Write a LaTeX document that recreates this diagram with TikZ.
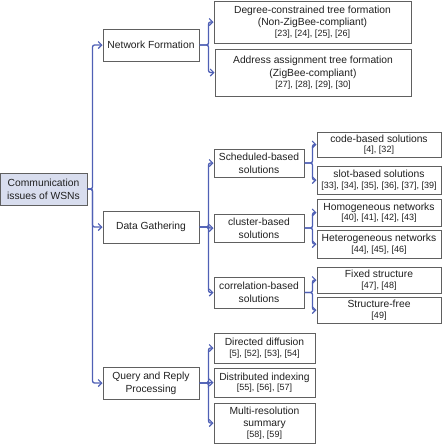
\documentclass[tikz,border=0pt]{standalone}
\usepackage{fontspec}
\setmainfont{Liberation Sans}
\usetikzlibrary{arrows.meta}
\definecolor{conncol}{HTML}{4F60B5}
\definecolor{rootfill}{HTML}{D8DDEE}
\definecolor{boxline}{HTML}{606060}
\definecolor{txt}{HTML}{202020}
\newcommand{\rf}{\fontsize{9}{11}\selectfont}
\tikzset{
  box/.style={draw=boxline, line width=1pt, fill=white, align=center, inner xsep=1pt, inner ysep=0pt,
    text=txt, font=\fontsize{10.3}{12.8}\selectfont},
  conn/.style={draw=conncol, line width=1.3pt, rounded corners=2pt,
    -{Straight Barb[length=3.5pt,width=7pt,line width=1.1pt]}},
}
\begin{document}
\begin{tikzpicture}[x=1pt,y=-1pt]
\useasboundingbox (0,0) rectangle (445,448);
% level 0
\node[box, fill=rootfill, minimum width=87pt, minimum height=32pt] (root) at (43.5,189) {Communication\\issues of WSNs};
% level 1
\node[box, minimum width=96pt, minimum height=32pt] (nf) at (151,45) {Network Formation};
\node[box, minimum width=96pt, minimum height=32pt] (dg) at (151,227) {Data Gathering};
\node[box, minimum width=96pt, minimum height=32pt] (qr) at (151,383) {Query and Reply\\Processing};
% network formation children
\node[box, minimum width=197pt, minimum height=42pt] (dc) at (312.5,22) {Degree-constrained tree formation\\(Non-ZigBee-compliant)\\[-2.2pt]{\rf [23], [24], [25], [26]}};
\node[box, minimum width=196pt, minimum height=47pt] (aa) at (313,72.5) {Address assignment tree formation\\(ZigBee-compliant)\\[-2.2pt]{\rf [27], [28], [29], [30]}};
% data gathering children
\node[box, minimum width=90pt, minimum height=28pt] (sch) at (259,163) {Scheduled-based\\solutions};
\node[box, minimum width=90pt, minimum height=28pt] (clu) at (259,228) {cluster-based\\solutions};
\node[box, minimum width=90pt, minimum height=31pt] (cor) at (259,292.5) {correlation-based\\solutions};
% level 3
\node[box, minimum width=124pt, minimum height=25pt] (code) at (379,144.5) {code-based solutions\\[-2.2pt]{\rf [4], [32]}};
\node[box, minimum width=124pt, minimum height=28pt] (slot) at (379,180) {slot-based solutions\\[-2.2pt]{\rf [33], [34], [35], [36], [37], [39]}};
\node[box, minimum width=124pt, minimum height=27pt] (hom) at (379,212.5) {Homogeneous networks\\[-2.2pt]{\rf [40], [41], [42], [43]}};
\node[box, minimum width=124pt, minimum height=28pt] (het) at (379,244) {Heterogeneous networks\\[-2.2pt]{\rf [44], [45], [46]}};
\node[box, minimum width=124pt, minimum height=26pt] (fix) at (379,280) {Fixed structure\\[-2.2pt]{\rf [47], [48]}};
\node[box, minimum width=124pt, minimum height=26pt] (sfr) at (379,310) {Structure-free\\[-2.2pt]{\rf [49]}};
% query children
\node[box, minimum width=101pt, minimum height=30pt] (dd) at (264.5,348) {Directed diffusion\\[-2.2pt]{\rf [5], [52], [53], [54]}};
\node[box, minimum width=101pt, minimum height=29pt] (di) at (264.5,382.5) {Distributed indexing\\[-2.2pt]{\rf [55], [56], [57]}};
\node[box, minimum width=101pt, minimum height=40pt] (mr) at (264.5,423) {Multi-resolution\\summary\\[-2.2pt]{\rf [58], [59]}};
% connectors
\draw[conn] (root.east) -- ++(5,0) |- (nf.west);
\draw[conn] (root.east) -- ++(5,0) |- (dg.west);
\draw[conn] (root.east) -- ++(5,0) |- (qr.west);
\draw[conn] (nf.east) -- ++(9,0) |- (dc.west);
\draw[conn] (nf.east) -- ++(9,0) |- (aa.west);
\draw[conn] (dg.east) -- ++(9,0) |- (sch.west);
\draw[conn] (dg.east) -- ++(9,0) |- (clu.west);
\draw[conn] (dg.east) -- ++(9,0) |- (cor.west);
\draw[conn] (sch.east) -- ++(8,0) |- (code.west);
\draw[conn] (sch.east) -- ++(8,0) |- (slot.west);
\draw[conn] (clu.east) -- ++(8,0) |- (hom.west);
\draw[conn] (clu.east) -- ++(8,0) |- (het.west);
\draw[conn] (cor.east) -- ++(8,0) |- (fix.west);
\draw[conn] (cor.east) -- ++(8,0) |- (sfr.west);
\draw[conn] (qr.east) -- ++(9,0) |- (dd.west);
\draw[conn] (qr.east) -- ++(9,0) |- (di.west);
\draw[conn] (qr.east) -- ++(9,0) |- (mr.west);
\end{tikzpicture}
\end{document}
